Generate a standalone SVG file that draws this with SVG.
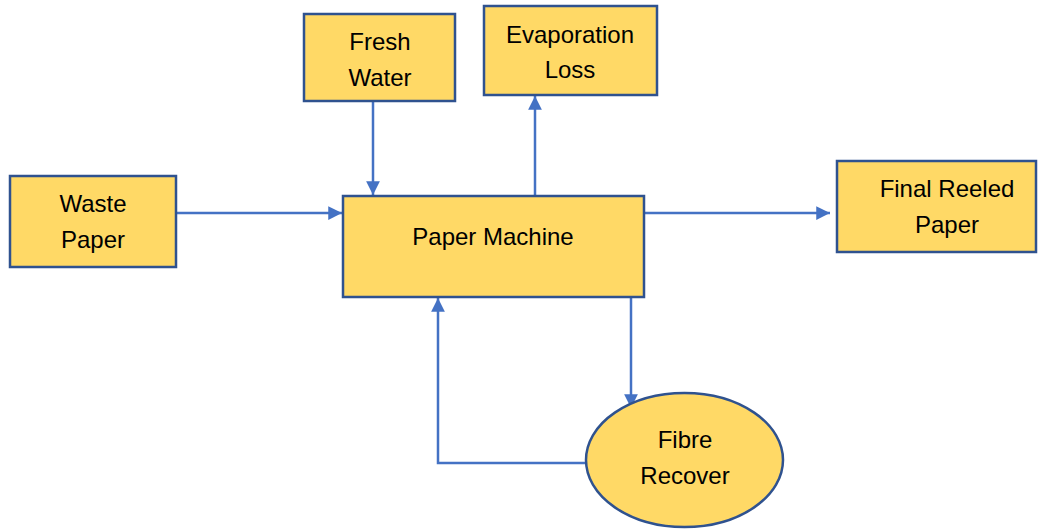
<svg xmlns="http://www.w3.org/2000/svg" width="1046" height="530" viewBox="0 0 1046 530">
<style>
.n{fill:#FFD966;stroke:#2F528F;stroke-width:2.5}
.t{font-family:"Liberation Sans",Arial,sans-serif;font-size:24px;fill:#000;text-anchor:middle}
.c{fill:none;stroke:#4472C4;stroke-width:2.5}
</style>
<defs>
<marker id="ah" viewBox="0 0 10 10" refX="10" refY="5" markerWidth="5.5" markerHeight="5.5" orient="auto" markerUnits="strokeWidth">
<path d="M0,0 L10,5 L0,10 Z" fill="#4472C4"/>
</marker>
</defs>
<rect width="1046" height="530" fill="#fff"/>
<g id="connectors">
<line class="c" x1="176" y1="213" x2="342" y2="213" marker-end="url(#ah)"/>
<line class="c" x1="373" y1="101" x2="373" y2="195" marker-end="url(#ah)"/>
<line class="c" x1="535" y1="196" x2="535" y2="96" marker-end="url(#ah)"/>
<line class="c" x1="644" y1="213" x2="830" y2="213" marker-end="url(#ah)"/>
<line class="c" x1="631" y1="297" x2="631" y2="408" marker-end="url(#ah)"/>
<polyline class="c" points="587,463 438,463 438,298" marker-end="url(#ah)"/>
</g>
<g id="waste-paper">
<rect class="n" x="10" y="176" width="166" height="91"/>
<text class="t" x="93" y="212">Waste</text>
<text class="t" x="93" y="248">Paper</text>
</g>
<g id="fresh-water">
<rect class="n" x="304" y="14" width="151" height="87"/>
<text class="t" x="380" y="50">Fresh</text>
<text class="t" x="380" y="86">Water</text>
</g>
<g id="evaporation-loss">
<rect class="n" x="484" y="6" width="173" height="89"/>
<text class="t" x="570" y="43">Evaporation</text>
<text class="t" x="570" y="78">Loss</text>
</g>
<g id="paper-machine">
<rect class="n" x="343" y="196" width="301" height="101"/>
<text class="t" x="493" y="245">Paper Machine</text>
</g>
<g id="final-reeled-paper">
<rect class="n" x="837" y="161" width="199" height="91"/>
<text class="t" x="947" y="197">Final Reeled</text>
<text class="t" x="947" y="233">Paper</text>
</g>
<g id="fibre-recover">
<ellipse class="n" cx="684.5" cy="460" rx="98.5" ry="67"/>
<text class="t" x="685" y="448">Fibre</text>
<text class="t" x="685" y="484">Recover</text>
</g>
</svg>
